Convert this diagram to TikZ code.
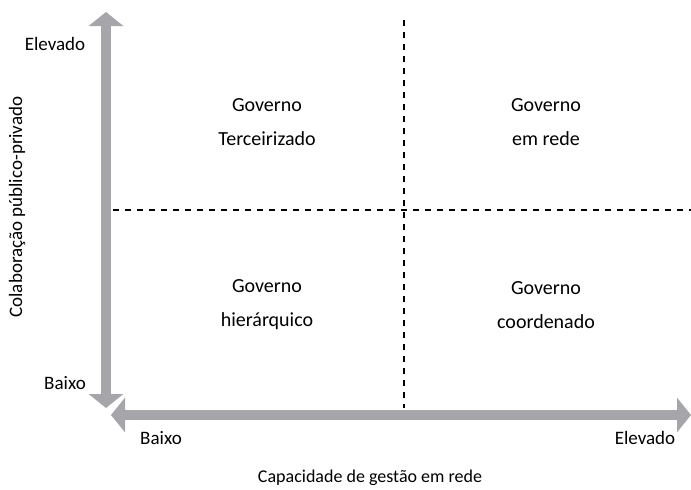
\documentclass[tikz,border=0pt]{standalone}
\usepackage{fontspec}
\setmainfont{Carlito}
\usepackage{tikz}
\usetikzlibrary{arrows.meta,positioning,calc}
\definecolor{axisgray}{RGB}{166,166,170}

\begin{document}
\begin{tikzpicture}[
			x=1pt, y=-1pt,
			every node/.style={font=\fontsize{19}{24}\selectfont, inner sep=1pt},
			axis/.style={draw=axisgray, line width=10pt, -{Triangle[length=14pt,width=34pt]}},
			divider/.style={draw=black, line width=2.6pt, dash pattern=on 6pt off 6pt},
			quadrant/.style={align=center, font=\fontsize{20}{34}\selectfont}
		]

		\useasboundingbox (0,0) rectangle (691,490);

		% eixos
		\coordinate (ytop) at (106,12);
		\coordinate (ybot) at (106,408);
		\coordinate (xleft) at (111,415);
		\coordinate (xright) at (691,415);
		\draw[axis] (106,200) -- (ytop);
		\draw[axis] (106,200) -- (ybot);
		\draw[axis] (400,415) -- (xleft);
		\draw[axis] (400,415) -- (xright);

		% divisoes
		\coordinate (hl) at (113,210);
		\coordinate (hr) at (691,210);
		\coordinate (vt) at (404,20);
		\coordinate (vb) at (404,408);
		\draw[divider] (hl) -- (hr);
		\draw[divider] (vt) -- (vb);

		% quadrantes
		\node[quadrant] (q1) at (267,122) {Governo\\Terceirizado};
		\node[quadrant] (q2) at (546,122) {Governo\\em rede};
		\node[quadrant] (q3) at (267,305) {Governo\\hierárquico};
		\node[quadrant] (q4) at (546,305) {Governo\\coordenado};

		% rotulos
		\node (yhigh) at (55,44) {Elevado};
		\node (ylow) at (65,383) {Baixo};
		\node (xlow) at (161,438) {Baixo};
		\node (xhigh) at (645,438) {Elevado};
		\node[font=\fontsize{18}{22}\selectfont] (xlabel) at (370,478) {Capacidade de gestão em rede};
		\node[rotate=90] (ylabel) at (17,207) {Colaboração público-privado};

	\end{tikzpicture}
\end{document}
